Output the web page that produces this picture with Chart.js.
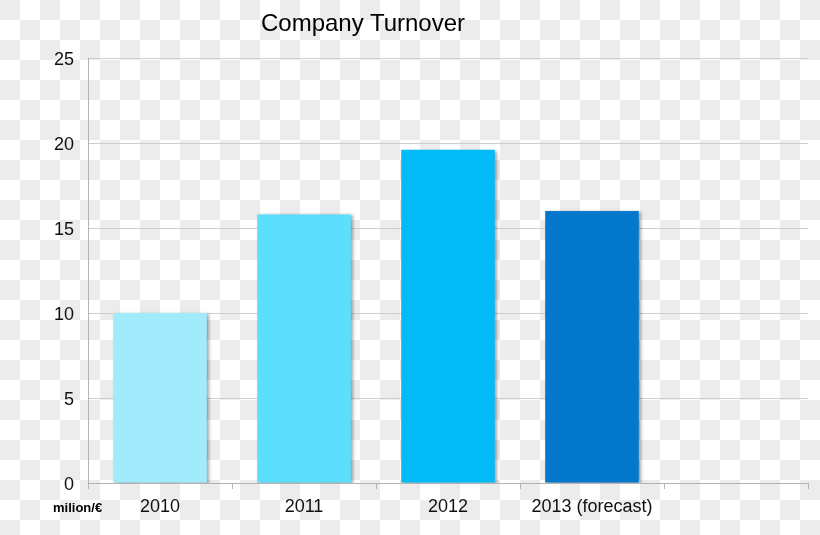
<!DOCTYPE html>
<html>
<head>
<meta charset="utf-8">
<title>Company Turnover</title>
<script src="https://cdn.jsdelivr.net/npm/chart.js@4.4.1/dist/chart.umd.min.js"></script>
<style>
  html, body { margin: 0; padding: 0; }
  body {
    width: 820px;
    height: 535px;
    overflow: hidden;
    background-color: #fff;
    /* transparency checkerboard seen in the reference */
    background-image: conic-gradient(#fff 25%, #ececec 0 50%, #fff 0 75%, #ececec 0);
    background-size: 40px 40px;
    font-family: "Liberation Sans", Arial, sans-serif;
  }
  .wrap { position: relative; width: 820px; height: 535px; }
  .chart-title {
    position: absolute;
    left: 363px;
    top: 23px;
    transform: translate(-50%, -50%);
    font-size: 24px;
    color: #000;
    white-space: nowrap;
  }
  .unit {
    position: absolute;
    left: 53px;
    top: 507px;
    transform: translateY(-50%);
    font-size: 13px;
    font-weight: bold;
    color: #000;
    white-space: nowrap;
  }
</style>
</head>
<body>
<div class="wrap">
  <canvas id="turnoverChart" width="820" height="535"></canvas>
  <div class="chart-title">Company Turnover</div>
  <div class="unit">milion/€</div>
</div>
<script>
// -- DATA --
const years = ["2010", "2011", "2012", "2013 (forecast)", ""];
const turnover = [10, 15.8, 19.6, 16, null];
const barColors = ["#a2ebfd", "#5cdffd", "#03bbf8", "#0378cc", "#0378cc"];
const yTicks = [0, 5, 10, 15, 20, 25];

document.addEventListener("DOMContentLoaded", function () {
  Chart.defaults.font.family = '"Liberation Sans", Arial, sans-serif';

  // soft drop shadow under the bars
  const barShadow = {
    id: "barShadow",
    beforeDatasetsDraw(chart) {
      const ctx = chart.ctx;
      ctx.save();
      ctx.shadowColor = "rgba(0, 0, 0, 0.35)";
      ctx.shadowBlur = 3;
      ctx.shadowOffsetX = 2;
      ctx.shadowOffsetY = 1;
    },
    afterDatasetsDraw(chart) {
      chart.ctx.restore();
    },
  };

  const ctx = document.getElementById("turnoverChart");
  new Chart(ctx, {
    type: "bar",
    data: {
      labels: years,
      datasets: [
        {
          label: "Turnover",
          data: turnover,
          backgroundColor: barColors,
          borderWidth: 0,
          barPercentage: 0.65,
          categoryPercentage: 1,
        },
      ],
    },
    options: {
      responsive: false,
      animation: false,
      layout: { padding: { top: 58, right: 12, left: 0, bottom: 0 } },
      plugins: {
        legend: { display: false },
        tooltip: { enabled: false },
        title: { display: false },
      },
      scales: {
        x: {
          grid: { drawOnChartArea: false, tickLength: 6, color: "#b4b4b4" },
          border: { color: "#b4b4b4" },
          ticks: { font: { size: 18 }, color: "#111", padding: 7 },
          afterFit: (scale) => { scale.height = 52; },
        },
        y: {
          min: yTicks[0],
          max: yTicks[yTicks.length - 1],
          afterBuildTicks: (scale) => { scale.ticks = yTicks.map((v) => ({ value: v })); },
          grid: { color: "#cdcdcd", drawTicks: false },
          border: { color: "#b4b4b4" },
          ticks: { font: { size: 18 }, color: "#111", padding: 14, labelOffset: 2 },
          afterFit: (scale) => { scale.width = 88; },
        },
      },
    },
    plugins: [barShadow],
  });
});
</script>
</body>
</html>
